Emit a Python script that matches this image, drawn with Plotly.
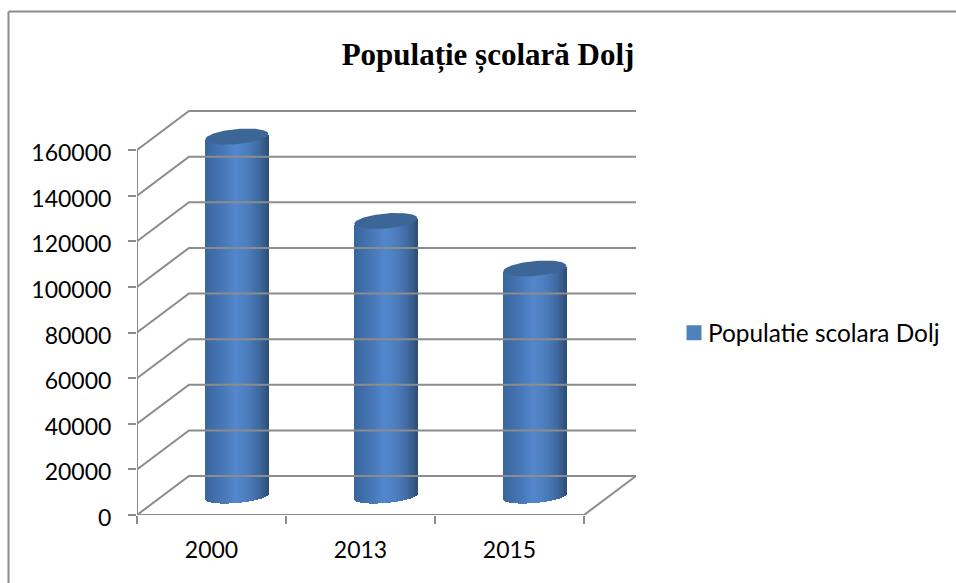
import numpy as np
import plotly.graph_objects as go

# ---- data
categories = ["2000", "2013", "2015"]
values = [157800, 120800, 99950]
y_ticks = [0, 20000, 40000, 60000, 80000, 100000, 120000, 140000, 160000]
series_name = "Populatie scolara Dolj"
title_text = "Populație școlară Dolj"

# ---- pseudo-3D geometry, in pixels of the reference
PX_X0, PX_X3, PX_BACK = 137, 584, 636
PX_Y0, PX_Y160, PX_TOP = 515, 150, 111
PAD = 6                                          # spare room round the walls
unit_x = (PX_X3 - PX_X0) / len(categories)      # px per category
unit_y = (PX_Y0 - PX_Y160) / y_ticks[-1]        # px per value unit
depth_x = (PX_BACK - PX_X3) / unit_x
depth_y = (PX_Y0 - 476) / unit_y
x_back = len(categories) + depth_x
x_max = x_back + PAD / unit_x
y_max = (PX_Y0 - PX_TOP + PAD) / unit_y

GRID = "#8c8c8c"
FONT = "Lato"
fs_ticks = 23
fs_legend = 24.4

cyl_a = 31.5 / unit_x
cyl_b_top = 7.5 / unit_y
cyl_b_bottom = 6.5 / unit_y
cyl_s = 2.75 / unit_y
base_level = 18.5 / unit_y
cyl_shift = 0.17

stops_u = [-1, -0.75, -0.4, 0.0, 0.4, 0.7, 0.9, 1.0]
stops_rgb = np.array([
    (0x39, 0x66, 0x9c), (0x3e, 0x6d, 0xa8), (0x47, 0x78, 0xb8), (0x53, 0x87, 0xcc),
    (0x4b, 0x7b, 0xbb), (0x3f, 0x6a, 0xa2), (0x35, 0x5a, 0x87), (0x2e, 0x4e, 0x75),
])


def colour(u):
    r, g, b = [int(round(np.interp(u, stops_u, stops_rgb[:, k]))) for k in range(3)]
    return f"rgb({r},{g},{b})"


fig = go.Figure()

# walls / floor grid
gx, gy = [], []
for v in y_ticks:
    gx += [0, depth_x, x_back, None]
    gy += [v, v + depth_y, v + depth_y, None]
gx += [0, 0, None, 0, len(categories), x_back]
gy += [0, y_ticks[-1], None, 0, 0, depth_y]
fig.add_trace(go.Scatter(x=gx, y=gy, mode="lines", line=dict(color=GRID, width=2),
                         cliponaxis=False, hoverinfo="skip", showlegend=False))

# cylinders: vertical slices carrying the value, plus a lid
n_slices = 64
for i, (cat, val) in enumerate(zip(categories, values)):
    cx = i + 0.5 + cyl_shift
    us = (np.arange(n_slices) + 0.5) / n_slices * 2 - 1
    xs = cx + us * cyl_a
    bases = base_level - cyl_b_bottom * np.sqrt(1 - us ** 2) + cyl_s * us
    fig.add_trace(go.Bar(
        x=xs, y=[val] * n_slices, base=bases, width=2 * cyl_a / n_slices * 1.35,
        marker=dict(color=[colour(u) for u in us], line=dict(width=0)),
        name=cat, showlegend=False, hoverinfo="skip", cliponaxis=False))
    t = np.linspace(0, 2 * np.pi, 121)
    fig.add_trace(go.Scatter(
        x=cx + cyl_a * np.cos(t),
        y=base_level + val + cyl_b_top * np.sin(t) + cyl_s * np.cos(t),
        mode="lines", fill="toself", fillcolor="#3b6695", line=dict(width=0),
        showlegend=False, hoverinfo="skip", cliponaxis=False))

# legend entry
fig.add_trace(go.Scatter(x=[None], y=[None], mode="markers", name=series_name,
                         marker=dict(symbol="square", size=15, color="#4f81bd")))

W, H = 956, 583
plot_right = PX_BACK + PAD
plot_top = PX_TOP - PAD
frame_x = (8.5 - PX_X0) / (plot_right - PX_X0)
frame_y = 1 + (plot_top - 11.5) / (PX_Y0 - plot_top)
fig.update_layout(
    width=W, height=H, autosize=False,
    margin=dict(l=PX_X0, r=W - plot_right, t=plot_top, b=H - PX_Y0, pad=0),
    paper_bgcolor="white", plot_bgcolor="rgba(0,0,0,0)",
    barmode="overlay", bargap=0,
    font=dict(family=FONT, size=fs_ticks, color="black"),
    title=dict(text=f"<b>{title_text}</b>",
               font=dict(family="Liberation Serif", size=31, color="black"),
               x=488 / W, xanchor="center", xref="container",
               y=1 - 54 / H, yanchor="middle"),
    legend=dict(x=674 / W, xref="container", y=1 - 333 / H, yref="container",
                xanchor="left", yanchor="middle",
                itemsizing="trace", font=dict(family=FONT, size=fs_legend), bgcolor="rgba(0,0,0,0)"),
    xaxis=dict(range=[0, x_max], showgrid=False, zeroline=False, showline=False,
               tickmode="array", tickvals=[i + 0.5 for i in range(len(categories))],
               ticktext=categories, ticks="", ticklen=0, ticklabelstandoff=19,
               minor=dict(tickmode="array", tickvals=list(range(len(categories) + 1)),
                          ticks="outside", ticklen=8, tickwidth=2, tickcolor=GRID, showgrid=False)),
    yaxis=dict(range=[0, y_max], showgrid=False, zeroline=False, showline=False,
               tickmode="array", tickvals=y_ticks, ticktext=[str(v) for v in y_ticks],
               ticks="outside", ticklen=8, tickwidth=2, tickcolor=GRID,
               ticklabelstandoff=12, ticklabelshift=3),
    shapes=[dict(type="line", xref="paper", yref="paper",
                 x0=frame_x, x1=(W - PX_X0) / (plot_right - PX_X0), y0=frame_y, y1=frame_y,
                 line=dict(color=GRID, width=2)),
            dict(type="line", xref="paper", yref="paper",
                 x0=frame_x, x1=frame_x, y0=frame_y, y1=(PX_Y0 - H) / (PX_Y0 - plot_top),
                 line=dict(color=GRID, width=2))],
)

post = """document.body.style.margin='0';
document.querySelectorAll('.legendtext').forEach(function(el){
  el.setAttribute('x', parseFloat(el.getAttribute('x')) - 6);
});"""
fig.write_html("out.html", post_script=post, config=dict(displayModeBar=False))
